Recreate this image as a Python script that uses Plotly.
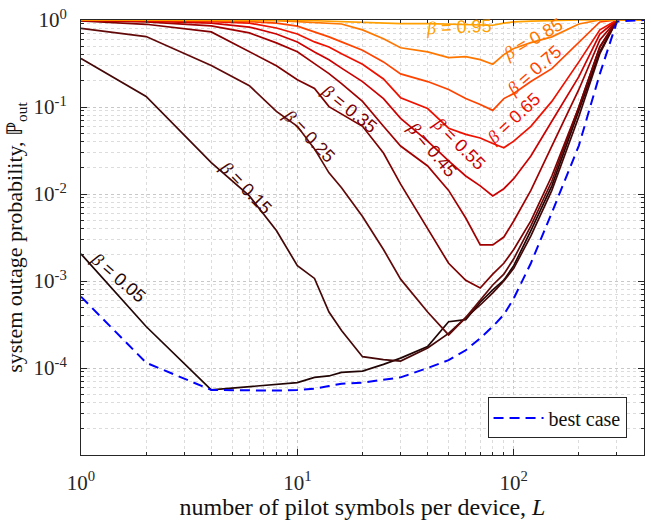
import plotly.graph_objects as go
import math

# ---- data ----
L = [1, 2, 4, 6, 8, 10, 12, 14, 16, 20, 25, 30, 40, 50, 60, 70, 80, 90, 100, 120, 150, 200, 250, 300, 400]

best_case = [6.6e-4, 1.15e-4, 5.6e-5, 5.5e-5, 5.5e-5, 5.6e-5, 5.8e-5, 6.2e-5, 6.6e-5, 6.8e-5, 7.4e-5, 7.8e-5,
             1.0e-4, 1.23e-4, 1.6e-4, 2.2e-4, 3.0e-4, 4.1e-4, 6.3e-4, 1.6e-3, 6.1e-3, 3.6e-2, 0.24, 0.96, 1.0]

beta_05 = [2.05e-3, 3.0e-4, 5.6e-5, 6.1e-5, 6.6e-5, 6.8e-5, 7.8e-5, 8.1e-5, 8.9e-5, 9.2e-5, 1.1e-4, 1.3e-4,
           1.77e-4, 3.4e-4, 3.6e-4, 5.7e-4, 7.9e-4, 1.02e-3, 1.5e-3, 3.8e-3, 1.24e-2, 8.9e-2, 0.43, 1.0, 1.0]
beta_15 = [0.36, 0.132, 0.023, 9.5e-3, 3.8e-3, 1.5e-3, 1.07e-3, 4.4e-4, 2.7e-4, 1.35e-4, 1.25e-4, 1.2e-4,
           1.7e-4, 2.5e-4, 3.8e-4, 5.3e-4, 7.3e-4, 1.0e-3, 1.4e-3, 3.3e-3, 1.1e-2, 7.8e-2, 0.41, 1.0, 1.0]
beta_25 = [0.80, 0.645, 0.30, 0.176, 0.089, 0.06, 0.033, 0.0175, 0.0118, 0.0055, 0.0023, 1.05e-3,
           4.4e-4, 2.4e-4, 3.8e-4, 6.0e-4, 9.0e-4, 1.2e-3, 1.8e-3, 4.3e-3, 1.4e-2, 0.1, 0.49, 1.0, 1.0]
beta_35 = [0.974, 0.893, 0.73, 0.431, 0.298, 0.206, 0.163, 0.101, 0.083, 0.06, 0.0296, 0.013,
           0.004, 0.0016, 0.00102, 0.00083, 0.0012, 0.0016, 0.0023, 0.0049, 0.0161, 0.1, 0.49, 1.0, 1.0]
beta_45 = [0.985, 0.95, 0.854, 0.711, 0.546, 0.431, 0.315, 0.242, 0.186, 0.116, 0.06, 0.0356,
           0.021, 0.011, 0.0053, 0.0026, 0.0026, 0.0032, 0.0049, 0.011, 0.0356, 0.159, 0.59, 1.0, 1.0]
beta_55 = [0.99, 0.97, 0.92, 0.83, 0.69, 0.56, 0.43, 0.35, 0.28, 0.196, 0.125, 0.074,
           0.0405, 0.024, 0.0161, 0.0124, 0.0095, 0.0115, 0.015, 0.0273, 0.0686, 0.223, 0.69, 1.0, 1.0]
beta_65 = [0.995, 0.99, 0.96, 0.92, 0.81, 0.69, 0.56, 0.49, 0.41, 0.31, 0.21, 0.128,
           0.096, 0.057, 0.0485, 0.044, 0.038, 0.034, 0.0405, 0.06, 0.116, 0.33, 0.77, 1.0, 1.0]
beta_75 = [1.0, 0.995, 0.985, 0.96, 0.92, 0.85, 0.73, 0.64, 0.56, 0.45, 0.33, 0.24,
           0.196, 0.159, 0.125, 0.107, 0.0915, 0.125, 0.143, 0.196, 0.276, 0.561, 0.95, 1.0, 1.0]
beta_85 = [1.0, 1.0, 0.995, 0.99, 0.985, 0.96, 0.94, 0.92, 0.90, 0.77, 0.61, 0.48,
           0.43, 0.37, 0.38, 0.35, 0.31, 0.40, 0.47, 0.55, 0.64, 0.90, 1.0, 1.0, 1.0]
beta_95 = [1.0, 1.0, 1.0, 0.998, 0.995, 0.99, 0.98, 0.97, 0.96, 0.94, 0.92, 0.91,
           0.91, 0.90, 0.89, 0.88, 0.87, 0.92, 0.95, 0.97, 0.99, 1.0, 1.0, 1.0, 1.0]

beta_values = ["0.05", "0.15", "0.25", "0.35", "0.45", "0.55", "0.65", "0.75", "0.85", "0.95"]
beta_series = [beta_05, beta_15, beta_25, beta_35, beta_45, beta_55, beta_65, beta_75, beta_85, beta_95]
beta_colors = ["#220606", "#450707", "#620909", "#7e0000", "#a00000",
               "#cc0000", "#ee1100", "#ff4400", "#ff7700", "#ffa000"]

# label anchor points (L, P) and rotation for each beta curve label
label_L = [1.49, 5.8, 11.3, 17.4, 42.1, 56.1, 100.6, 124.5, 123.0, 56.1]
label_P = [1.07e-3, 0.0118, 0.0462, 0.094, 0.032, 0.0374, 0.074, 0.269, 0.607, 0.832]
label_angle = [41, 46, 46, 39, 50, 45, -43, -41, -30, -2]

x_ticks = [1, 10, 100]
x_ticktext = ["10<sup>0</sup>", "10<sup>1</sup>", "10<sup>2</sup>"]
y_ticks = [1e-4, 1e-3, 1e-2, 1e-1, 1]
y_ticktext = ["10<sup>-4</sup>", "10<sup>-3</sup>", "10<sup>-2</sup>", "10<sup>-1</sup>", "10<sup>0</sup>"]
x_minor = [2, 3, 4, 5, 6, 7, 8, 9, 20, 30, 40, 50, 60, 70, 80, 90, 200, 300, 400]
y_minor = [m * 10.0 ** e for e in range(-5, 0) for m in range(2, 10)]

SERIF = "Liberation Serif, Times New Roman, serif"
SANS = "Liberation Sans, Arial, sans-serif"

fig = go.Figure()
for b, ys, c in zip(beta_values, beta_series, beta_colors):
    fig.add_trace(go.Scatter(x=L, y=ys, mode="lines", line=dict(color=c, width=1.7),
                             showlegend=False, name="β = " + b))

fig.add_trace(go.Scatter(x=L, y=best_case, mode="lines", name="best case",
                         line=dict(color="#0000ff", width=2, dash="10px,6px")))

for b, lx, ly, ang, c in zip(beta_values, label_L, label_P, label_angle, beta_colors):
    fig.add_annotation(x=math.log10(lx), y=math.log10(ly), xref="x", yref="y",
                       text='<span style="font-family:Liberation Serif"><i>β</i></span> = ' + b,
                       showarrow=False, textangle=ang,
                       font=dict(family=SANS, size=18, color=c))

axis_common = dict(
    type="log", showline=True, linecolor="#262626", linewidth=1, mirror="allticks",
    ticks="inside", ticklen=6, tickcolor="#262626",
    showgrid=True, gridcolor="#c8c8c8", griddash="dot", gridwidth=1,
    zeroline=False, tickfont=dict(family=SERIF, size=21, color="#262626"),
    ticklabelstandoff=9,
)

fig.update_xaxes(**axis_common, range=[0, math.log10(400)], tickvals=x_ticks, ticktext=x_ticktext,
                 minor=dict(tickvals=x_minor, ticks="inside", ticklen=3, tickcolor="#262626",
                            showgrid=True, gridcolor="#dcdcdc", griddash="dot"),
                 title=dict(text="number of pilot symbols per device, <i>L</i>",
                            font=dict(family=SERIF, size=24, color="#111111"), standoff=2))
fig.update_yaxes(**axis_common, range=[-5, 0], tickvals=y_ticks, ticktext=y_ticktext,
                 minor=dict(tickvals=y_minor, ticks="inside", ticklen=3, tickcolor="#262626",
                            showgrid=True, gridcolor="#dcdcdc", griddash="dot"),
                 title=dict(text="system outage probability, ℙ<sub>out</sub>",
                            font=dict(family=SERIF, size=22, color="#111111"), standoff=4))

fig.update_layout(
    width=651, height=520,
    margin=dict(l=81, r=6, t=18, b=64),
    plot_bgcolor="white", paper_bgcolor="white",
    legend=dict(x=0.969, y=0.038, xanchor="right", yanchor="bottom",
                bgcolor="white", bordercolor="#262626", borderwidth=1,
                font=dict(family=SERIF, size=20, color="#111111"),
                itemwidth=50, tracegroupgap=0),
)

fig.write_html("out.html")
